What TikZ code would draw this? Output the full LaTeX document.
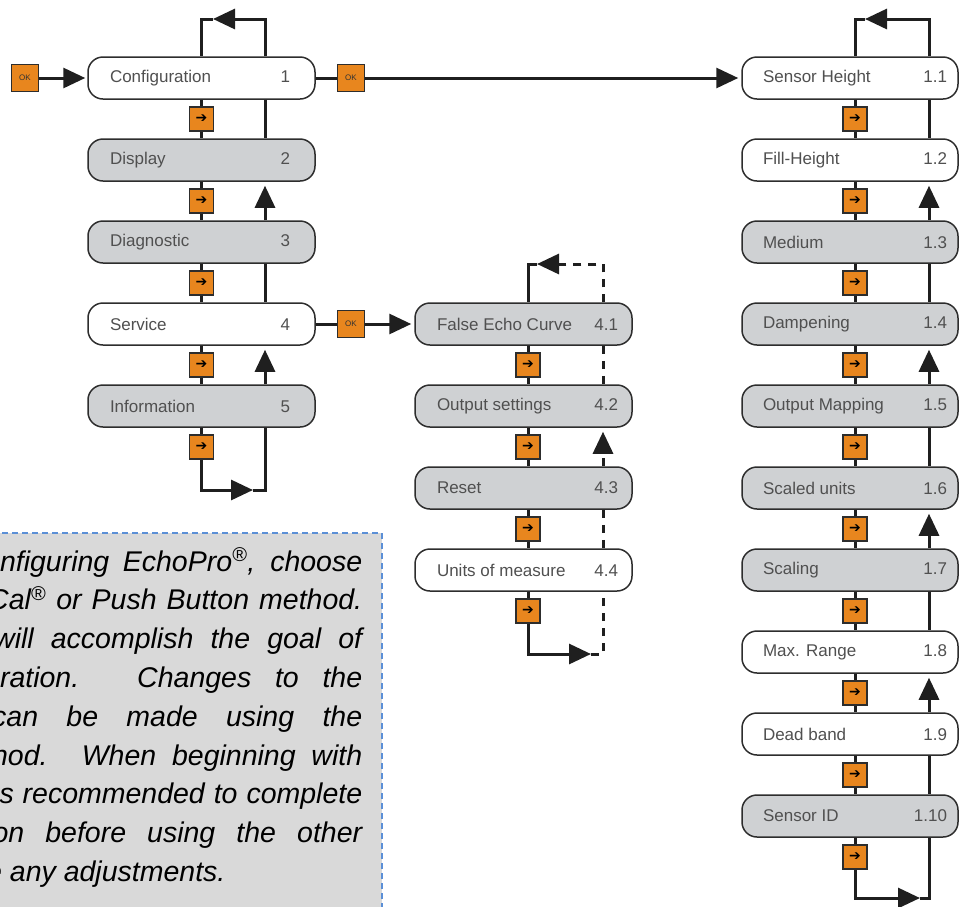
\documentclass[tikz,border=0pt]{standalone}
\usepackage{fontspec}
\setmainfont{Liberation Sans}
\newfontfamily\symfont{DejaVu Sans}
\usetikzlibrary{arrows.meta}

\definecolor{keyorange}{RGB}{232,134,30}
\definecolor{boxgray}{RGB}{207,209,211}
\definecolor{boxline}{RGB}{45,45,45}
\definecolor{labelgray}{RGB}{80,80,80}
\definecolor{notegray}{RGB}{217,217,217}
\definecolor{noteblue}{RGB}{91,143,214}

\newcommand{\menuitem}[5]{
  \node[menubox, fill=#2, minimum width=\colw] (#1) at (\colx, #3)
    {\makebox[\colw][s]{\hspace*{\lpad}#4\hfill #5\hspace{\rpad}}};
}
\newcommand{\nextkey}[2]{
  \node[keybox] (#1) at (\keyx, #2) {{\symfont\fontsize{14}{14}\selectfont ➔}};
}

\begin{document}
\begin{tikzpicture}[x=1pt, y=-1pt, line join=miter,
  menubox/.style={draw=boxline, line width=1.5pt, rounded corners=15pt,
    minimum height=42pt, inner xsep=0pt, inner ysep=0pt, text=labelgray,
    font=\fontsize{17}{20}\selectfont},
  keybox/.style={draw=boxline, line width=1.4pt, fill=keyorange,
    minimum size=24pt, inner sep=0pt},
  okkey/.style={keybox, minimum size=27pt, font=\fontsize{8}{8}\selectfont, text=black!80},
  link/.style={line width=3pt, draw=black!88},
  dashlink/.style={link, dash pattern=on 8pt off 7pt},
  bigtip/.style={-{Triangle[length=22pt, width=20pt]}},
  notebox/.style={draw=noteblue, line width=1.3pt, dash pattern=on 6pt off 4pt, fill=notegray},
  noteline/.style={anchor=base west, inner sep=0pt, font=\fontsize{28.5}{38.8}\selectfont\itshape}]

  \useasboundingbox (0,0) rectangle (959,906);
  \clip (0,0) rectangle (959,906);

  % --- Column 1: main menu ---
  \def\colx{201.5}\def\colw{227pt}\def\lpad{22pt}\def\rpad{25pt}\def\keyx{201.5}
  \menuitem{config}{white}{78}{Configuration}{1}
  \menuitem{display}{boxgray}{160}{Display}{2}
  \menuitem{diag}{boxgray}{242}{Diagnostic}{3}
  \menuitem{service}{white}{324}{Service}{4}
  \menuitem{info}{boxgray}{406}{Information}{5}
  \foreach \k/\y in {k1/119, k2/201, k3/283, k4/365, k5/447}
    {\nextkey{\k}{\y}}

  \foreach \a/\k/\b in {config/k1/display, display/k2/diag, diag/k3/service, service/k4/info}
    \draw[link] (\a.south -| \k) -- (\k) -- (\k |- \b.north);
  \draw[link] (info.south -| k5) -- (k5);

  \coordinate (lret) at (265,19);
  \coordinate (ltip) at (213,19);
  \coordinate (lbtip) at (253,490);
  \foreach \a/\b in {config/display, diag/service}
    \draw[link] (\a.south -| lret) -- (\b.north -| lret);
  \foreach \a/\b in {display/diag, service/info}
    \draw[link, bigtip, shorten >=4pt] (\b.north -| lret) -- (\a.south -| lret);
  \draw[link, bigtip] (config.north -| lret) -- (lret) -- (ltip);
  \draw[link] (ltip) -| (k1 |- config.north);
  \draw[link, bigtip] (k5.south) |- (lbtip);
  \draw[link] (lbtip) -| (info.south -| lret);

  % --- Column 2: service menu ---
  \def\colx{523.5}\def\colw{217pt}\def\lpad{22pt}\def\rpad{14pt}\def\keyx{528}
  \menuitem{fecurve}{boxgray}{324}{False Echo Curve}{4.1}
  \menuitem{outset}{boxgray}{406}{Output settings}{4.2}
  \menuitem{reset}{boxgray}{488}{Reset}{4.3}
  \menuitem{units}{white}{570}{Units of measure}{4.4}
  \foreach \k/\y in {m1/365, m2/447, m3/529, m4/611}
    {\nextkey{\k}{\y}}

  \foreach \a/\k/\b in {fecurve/m1/outset, outset/m2/reset, reset/m3/units}
    \draw[link] (\a.south -| \k) -- (\k) -- (\k |- \b.north);
  \draw[link] (units.south -| m4) -- (m4);

  \coordinate (mret) at (603,264);
  \coordinate (mtip) at (537,264);
  \coordinate (mbtip) at (591,654);
  \foreach \a/\b in {fecurve/outset, reset/units}
    \draw[dashlink] (\a.south -| mret) -- (\b.north -| mret);
  \draw[dashlink, bigtip, shorten >=4pt] (reset.north -| mret) -- (outset.south -| mret);
  \draw[dashlink, bigtip] (fecurve.north -| mret) -- (mret) -- (mtip);
  \draw[link] (mtip) -| (m1 |- fecurve.north);
  \draw[link, bigtip] (m4.south) |- (mbtip);
  \draw[dashlink] (mbtip) -| (units.south -| mret);

  % --- Column 3: configuration menu ---
  \def\colx{850}\def\colw{216pt}\def\lpad{21pt}\def\rpad{11pt}\def\keyx{855}
  \menuitem{sensorh}{white}{78}{Sensor Height}{1.1}
  \menuitem{fillh}{white}{160}{Fill-Height}{1.2}
  \menuitem{medium}{boxgray}{242}{Medium}{1.3}
  \menuitem{dampen}{boxgray}{324}{Dampening}{1.4}
  \menuitem{outmap}{boxgray}{406}{Output Mapping}{1.5}
  \menuitem{scunits}{boxgray}{488}{Scaled units}{1.6}
  \menuitem{scaling}{boxgray}{570}{Scaling}{1.7}
  \menuitem{maxrange}{white}{652}{Max. Range}{1.8}
  \menuitem{deadband}{white}{734}{Dead band}{1.9}
  \menuitem{sensorid}{boxgray}{816}{Sensor ID}{1.10}
  \foreach \k/\y in {r1/119, r2/201, r3/283, r4/365, r5/447, r6/529, r7/611, r8/693, r9/775, r10/857}
    {\nextkey{\k}{\y}}

  \foreach \a/\k/\b in {sensorh/r1/fillh, fillh/r2/medium, medium/r3/dampen, dampen/r4/outmap,
      outmap/r5/scunits, scunits/r6/scaling, scaling/r7/maxrange, maxrange/r8/deadband, deadband/r9/sensorid}
    \draw[link] (\a.south -| \k) -- (\k) -- (\k |- \b.north);
  \draw[link] (sensorid.south -| r10) -- (r10);

  \coordinate (rret) at (929,19);
  \coordinate (rtip) at (865,19);
  \coordinate (rbtip) at (920,898);
  \foreach \a/\b in {sensorh/fillh, medium/dampen, outmap/scunits, scaling/maxrange, deadband/sensorid}
    \draw[link] (\a.south -| rret) -- (\b.north -| rret);
  \foreach \a/\b in {fillh/medium, dampen/outmap, scunits/scaling, maxrange/deadband}
    \draw[link, bigtip, shorten >=4pt] (\b.north -| rret) -- (\a.south -| rret);
  \draw[link, bigtip] (sensorh.north -| rret) -- (rret) -- (rtip);
  \draw[link] (rtip) -| (r1 |- sensorh.north);
  \draw[link, bigtip] (r10.south) |- (rbtip);
  \draw[link] (rbtip) -| (sensorid.south -| rret);

  % --- OK keys ---
  \node[okkey] (okin) at (25,78) {OK};
  \node[okkey] (ok1) at (351,78) {OK};
  \node[okkey] (ok4) at (351,324) {OK};
  \draw[link, bigtip, shorten >=2pt] (okin) -- (config);
  \draw[link] (config) -- (ok1);
  \draw[link, bigtip, shorten >=3pt] (ok1) -- (sensorh);
  \draw[link] (service) -- (ok4);
  \draw[link, bigtip, shorten >=3pt] (ok4) -- (fecurve);

  % --- Note ---
  \draw[notebox] (-10,533) rectangle (382,930);
  \node[noteline] (note1) at (-16,571) {\makebox[378pt][s]{onfiguring EchoPro\textsuperscript{®}, choose}};
  \node[noteline] (note2) at (-12,609.8) {\makebox[374pt][s]{Cal\textsuperscript{®} or Push Button method.}};
  \node[noteline] (note3) at (-6,648.6) {\makebox[368pt][s]{will accomplish the goal of}};
  \node[noteline] (note4) at (-16,687.4) {\makebox[378pt][s]{uration. Changes to the}};
  \node[noteline] (note5) at (-8,726.2) {\makebox[370pt][s]{can be made using the}};
  \node[noteline] (note6) at (-16,765) {\makebox[378pt][s]{thod. When beginning with}};
  \node[noteline] (note7) at (-7,803.8) {\makebox[369pt][s]{is recommended to complete}};
  \node[noteline] (note8) at (-14,842.6) {\makebox[376pt][s]{ion before using the other}};
  \node[noteline] (note9) at (-14,881.4) {e any adjustments.};

\end{tikzpicture}
\end{document}
